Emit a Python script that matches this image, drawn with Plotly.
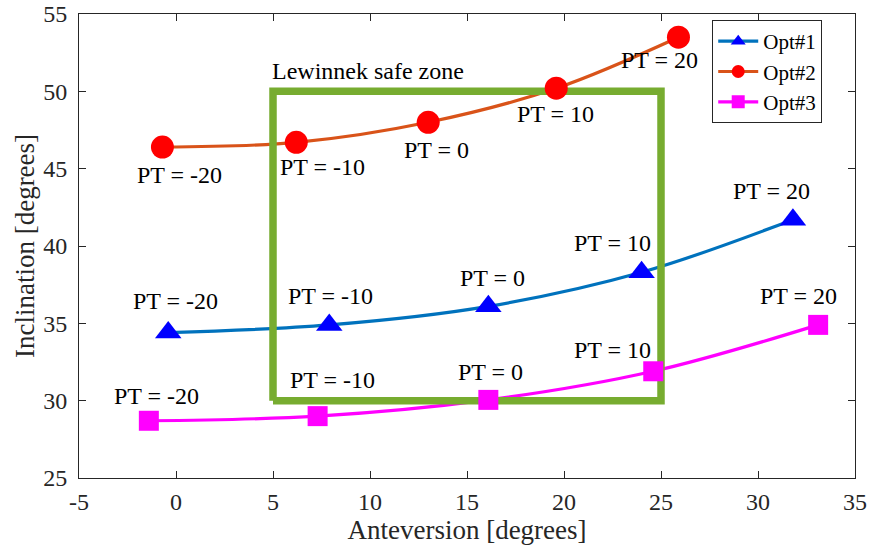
import plotly.graph_objects as go

# ---------------- data ----------------
pt_labels = ["PT = -20", "PT = -10", "PT = 0", "PT = 10", "PT = 20"]

opt1_x = [-0.4, 7.9, 16.1, 24.0, 31.8]
opt1_y = [34.4, 34.9, 36.1, 38.3, 41.7]

opt2_x = [-0.7, 6.2, 13.0, 19.6, 25.9]
opt2_y = [46.4, 46.7, 48.0, 50.2, 53.5]

opt3_x = [-1.4, 7.3, 16.1, 24.6, 33.1]
opt3_y = [28.7, 29.0, 30.05, 31.9, 34.9]

zone_x = [5, 25]
zone_y = [30, 50]
zone_label = "Lewinnek safe zone"

x_ticks = [-5, 0, 5, 10, 15, 20, 25, 30, 35]
y_ticks = [25, 30, 35, 40, 45, 50, 55]

# ---------------- styles ----------------
FONT = "Times New Roman, Liberation Serif, serif"
AX = "#262626"
series = [
    dict(name="Opt#1", x=opt1_x, y=opt1_y, line="#0072BD", mcol="#0000FF",
         symbol="triangle-up", size=23,
         shifts=[(7, 32), (1, 29), (4, 28), (-29, 29), (-21, 29)]),
    dict(name="Opt#2", x=opt2_x, y=opt2_y, line="#D95319", mcol="#FF0000",
         symbol="circle", size=23,
         shifts=[(17, -28), (26, -25), (8, -28), (-1, -26), (-19, -23)]),
    dict(name="Opt#3", x=opt3_x, y=opt3_y, line="#FF00FF", mcol="#FF00FF",
         symbol="square", size=20,
         shifts=[(8, 25), (15, 36), (2, 28), (-41, 21), (-20, 29)]),
]

fig = go.Figure()

# fitted curves
for s in series:
    fig.add_trace(go.Scatter(x=s["x"], y=s["y"], mode="lines",
                             line=dict(color=s["line"], width=3.2, shape="spline", smoothing=1.0),
                             showlegend=False, hoverinfo="skip"))

# safe zone rectangle (above curves, below markers)
fig.add_trace(go.Scatter(
    x=[zone_x[0], zone_x[1], zone_x[1], zone_x[0], zone_x[0]],
    y=[zone_y[0], zone_y[0], zone_y[1], zone_y[1], zone_y[0]],
    mode="lines", line=dict(color="#77AC30", width=7.5),
    showlegend=False, hoverinfo="skip"))

# markers
for s in series:
    fig.add_trace(go.Scatter(x=s["x"], y=s["y"], mode="markers",
                             marker=dict(color=s["mcol"], symbol=s["symbol"], size=s["size"],
                                         line=dict(width=0)),
                             showlegend=False))

# legend entries
for s in series:
    fig.add_trace(go.Scatter(x=[None], y=[None], mode="lines+markers", name=s["name"],
                             line=dict(color=s["line"], width=3.2),
                             marker=dict(color=s["mcol"], symbol=s["symbol"], size=13)))

# PT labels
for s in series:
    for xi, yi, lab, (dx, dy) in zip(s["x"], s["y"], pt_labels, s["shifts"]):
        fig.add_annotation(x=xi, y=yi, text=lab, showarrow=False,
                           xshift=dx, yshift=dy,
                           font=dict(family=FONT, size=24, color="black"))

fig.add_annotation(x=zone_x[0], y=zone_y[1], text=zone_label, showarrow=False,
                   xanchor="left", yanchor="bottom", xshift=-3, yshift=5,
                   font=dict(family=FONT, size=24, color="black"))

axis_common = dict(showline=True, linecolor=AX, linewidth=1, mirror="ticks",
                   ticks="inside", ticklen=7, tickcolor=AX, tickwidth=1,
                   showgrid=False, zeroline=False, automargin=False,
                   tickfont=dict(family=FONT, size=24, color=AX))

fig.update_xaxes(range=[-5, 35], tickvals=x_ticks, ticktext=[str(v) for v in x_ticks],
                 ticklabelstandoff=2,
                 title=dict(text="Anteversion [degrees]", font=dict(family=FONT, size=27, color=AX),
                            standoff=4),
                 **axis_common)
fig.update_yaxes(range=[25, 55], tickvals=y_ticks, ticktext=[str(v) for v in y_ticks],
                 ticklabelstandoff=6,
                 title=dict(text="Inclination [degrees]", font=dict(family=FONT, size=27, color=AX),
                            standoff=0),
                 **axis_common)

fig.update_layout(
    width=870, height=554,
    margin=dict(l=79, r=15, t=14, b=76, autoexpand=False),
    plot_bgcolor="white", paper_bgcolor="white",
    font=dict(family=FONT, color=AX),
    legend=dict(x=0.816, y=0.987, xanchor="left", yanchor="top",
                bgcolor="white", bordercolor=AX, borderwidth=1,
                font=dict(family=FONT, size=21, color="black"),
                tracegroupgap=0, itemwidth=40),
)

fig.write_html("out.html", config={"displayModeBar": False},
               post_script="document.body.style.margin='0';document.body.style.overflow='hidden';")
